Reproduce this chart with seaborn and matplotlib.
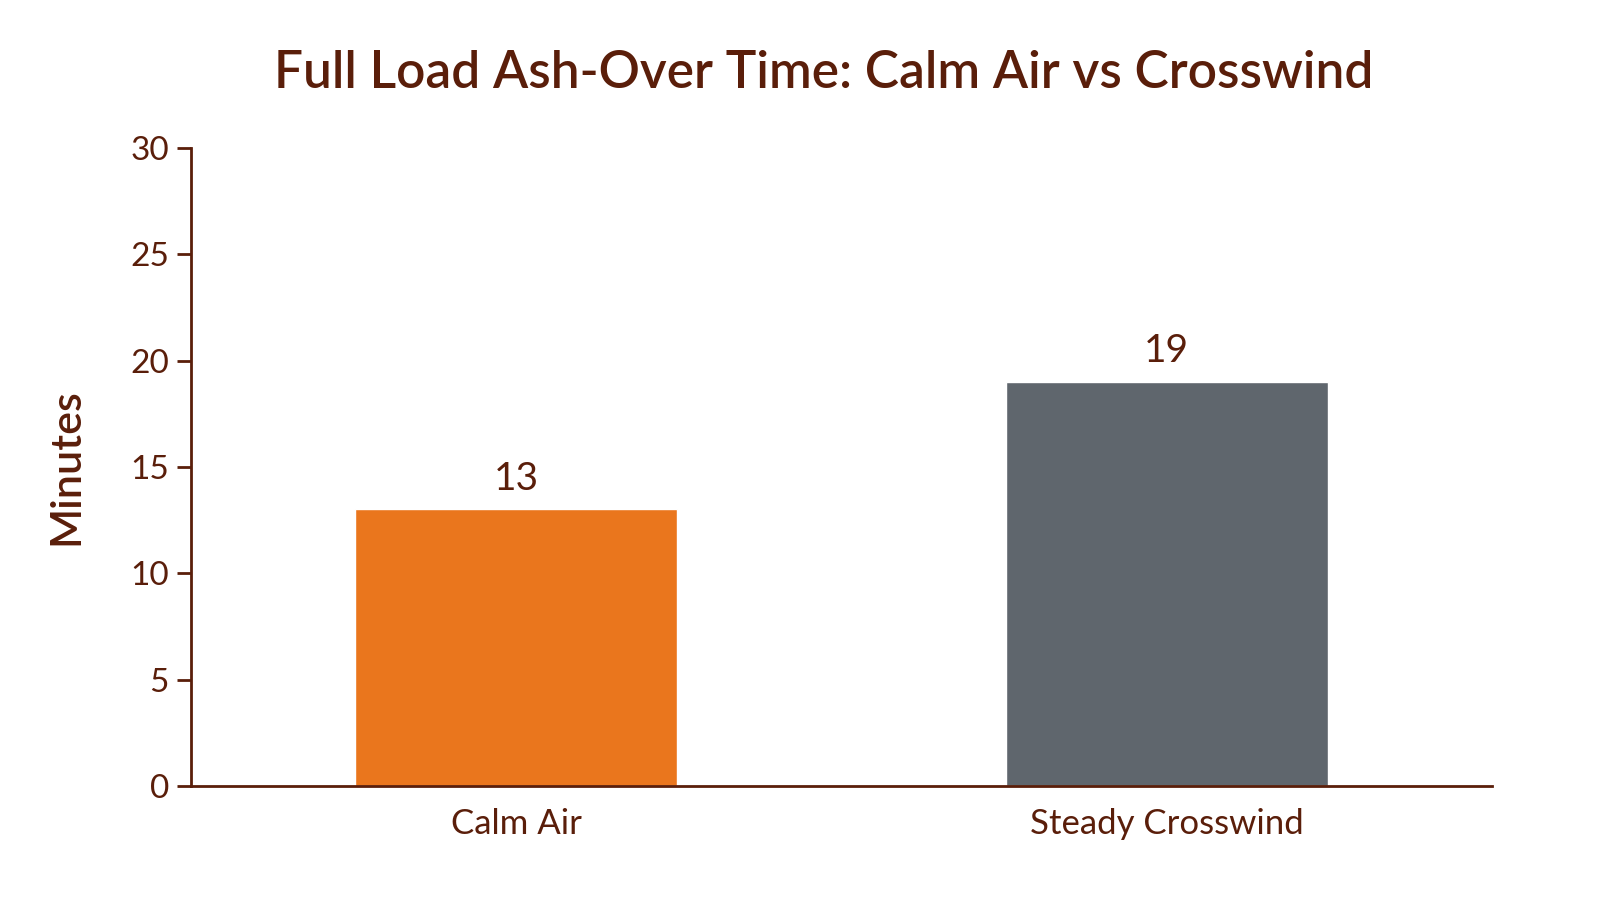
import matplotlib
matplotlib.use("Agg")
import matplotlib.pyplot as plt
import pandas as pd
import seaborn as sns

# data
categories = ["Calm Air", "Steady Crosswind"]
minutes = [13, 19]
bar_colors = ["#ea761d", "#5f666d"]
y_ticks = [0, 5, 10, 15, 20, 25, 30]

TEXT = "#5a1e0a"

sns.set_theme(style="white")
plt.rcParams['font.family'] = ['Lato', 'DejaVu Sans']

df = pd.DataFrame({"condition": categories, "minutes": minutes})

fig = plt.figure(figsize=(15.99, 9), dpi=100)
ax = fig.add_axes([0.1195, 0.1267, 0.8135, 0.709])

sns.barplot(data=df, x="condition", y="minutes", hue="condition",
            palette=bar_colors, width=0.495, saturation=1, legend=False, ax=ax)

for i, v in enumerate(minutes):
    ax.text(i, v + 0.6, f"{v}", ha="center", va="bottom",
            fontsize=28, color=TEXT)

ax.set_xlim(-0.5, 1.5)
ax.set_ylim(0, 30)
ax.set_yticks(y_ticks)
ax.set_xlabel("")
ax.set_ylabel("Minutes", fontsize=31, color=TEXT, fontweight="semibold", labelpad=32)

ax.tick_params(axis="y", length=10, width=2, color=TEXT, labelcolor=TEXT,
               labelsize=24, pad=6, left=True)
ax.tick_params(axis="x", length=0, labelcolor=TEXT, labelsize=25, pad=16)

sns.despine(ax=ax)
for side in ["left", "bottom"]:
    ax.spines[side].set_color(TEXT)
    ax.spines[side].set_linewidth(2)

fig.suptitle("Full Load Ash-Over Time: Calm Air vs Crosswind",
             fontsize=37, fontweight="semibold", color=TEXT, x=0.515, y=0.945)

fig.savefig("out.png", dpi=100)
